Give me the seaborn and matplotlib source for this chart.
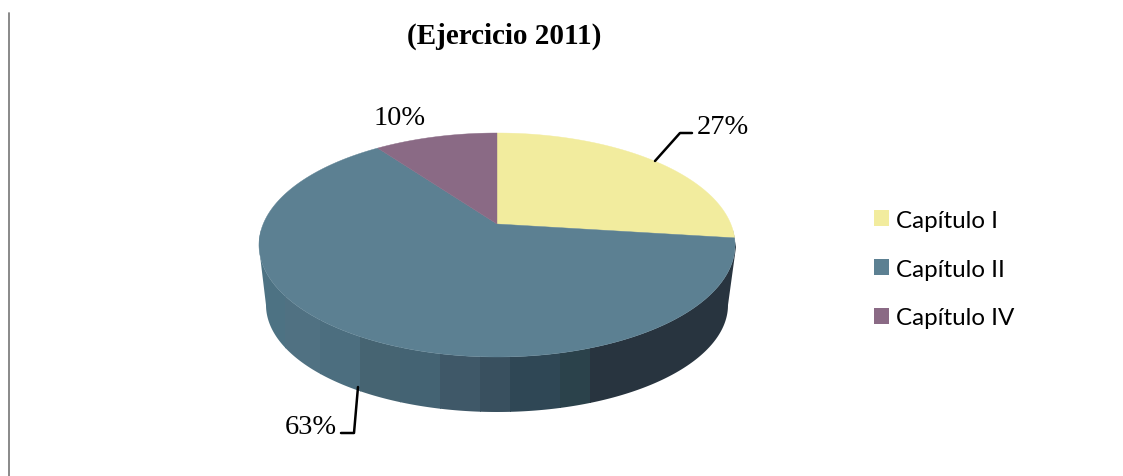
#!/usr/bin/env python3
import numpy as np
import matplotlib
matplotlib.use('Agg')
import matplotlib.pyplot as plt
from matplotlib.patches import Patch, Polygon
import seaborn as sns

categories = ['Capítulo I', 'Capítulo II', 'Capítulo IV']
shares = [27, 63, 10]
slice_colors = ['#F2EC9E', '#5C8092', '#8A6A85']
title = '(Ejercicio 2011)'

# shading bands along the side wall of the big slice, left to right
side_edges = [255, 285, 320, 360, 400, 440, 480, 510, 560, 590, 740]
side_colors = ['#4D7283', '#507182', '#4C6E7F', '#466472', '#446373', '#3F5868',
               '#39505F', '#2F4755', '#2B424B', '#28343F']


def top_face(theta):
    # circle seen in perspective, theta is clockwise from 12 o'clock
    denom = 1 + 0.1875 * np.cos(theta)
    x = 497 + 233.8 * np.sin(theta) / denom
    y = (224 - 66.06 * np.cos(theta)) / denom
    return x, y


def main():
    sns.set_theme(style='white')
    palette = sns.color_palette(slice_colors)

    fig = plt.figure(figsize=(11.23, 4.77), dpi=100)
    ax = fig.add_axes([0, 0, 1, 1])
    ax.set_xlim(0, 1123)
    ax.set_ylim(476, -1)
    ax.axis('off')

    ax.plot([9, 9], [13, 477], color='#808080', lw=1.3)

    # side wall
    t = np.linspace(np.pi / 2 + 0.05, 3 * np.pi / 2 - 0.05, 200)
    xt, yt = top_face(t)
    b = np.linspace(0, np.pi, 200)
    xb = 497 + 231 * np.cos(b)
    yb = 305 + 107 * np.sin(b)
    outline = np.vstack([np.column_stack([xt, yt]), [[259, 247]], np.column_stack([xb[::-1], yb[::-1]]),
                         [[736, 247]]])
    wall = Polygon(outline, closed=True, fc='none', ec='none')
    ax.add_patch(wall)
    for i, color in enumerate(side_colors):
        band = ax.axvspan(side_edges[i], side_edges[i + 1] + 0.5, color=color, lw=0)
        band.set_clip_path(wall)

    # top face
    start = 0
    total = sum(shares)
    for share, color in zip(shares, palette):
        end = start + share / total * 2 * np.pi
        x, y = top_face(np.linspace(start, end, 200))
        ax.fill(np.r_[497, x], np.r_[224, y], color=color, lw=0.3)
        start = end

    # leader lines
    ax.plot([655, 680, 692], [161, 133, 133], color='black', lw=1.8)
    ax.plot([358, 354, 341], [387, 433, 433], color='black', lw=1.8)

    serif = 'Liberation Serif'
    ax.text(504, 35, title, family=serif, weight='bold', fontsize=21, ha='center', va='center', color='black')
    ax.text(723, 127, f'{shares[0]}%', family=serif, fontsize=20.5, ha='center', va='center', color='black')
    ax.text(311, 427, f'{shares[1]}%', family=serif, fontsize=20.5, ha='center', va='center', color='black')
    ax.text(400, 118, f'{shares[2]}%', family=serif, fontsize=20.5, ha='center', va='center', color='black')

    handles = [Patch(color=c, lw=0) for c in palette]
    ax.legend(handles, categories, loc='upper left', bbox_to_anchor=(869 / 1123, 1 - 206 / 477), frameon=False,
              prop={'family': 'Lato', 'size': 17.4}, handlelength=0.62, handleheight=0.62,
              handletextpad=0.3, labelspacing=1.15, labelcolor='black', borderpad=0.2, borderaxespad=0)

    fig.savefig('out.png', dpi=100)


if __name__ == '__main__':
    main()
